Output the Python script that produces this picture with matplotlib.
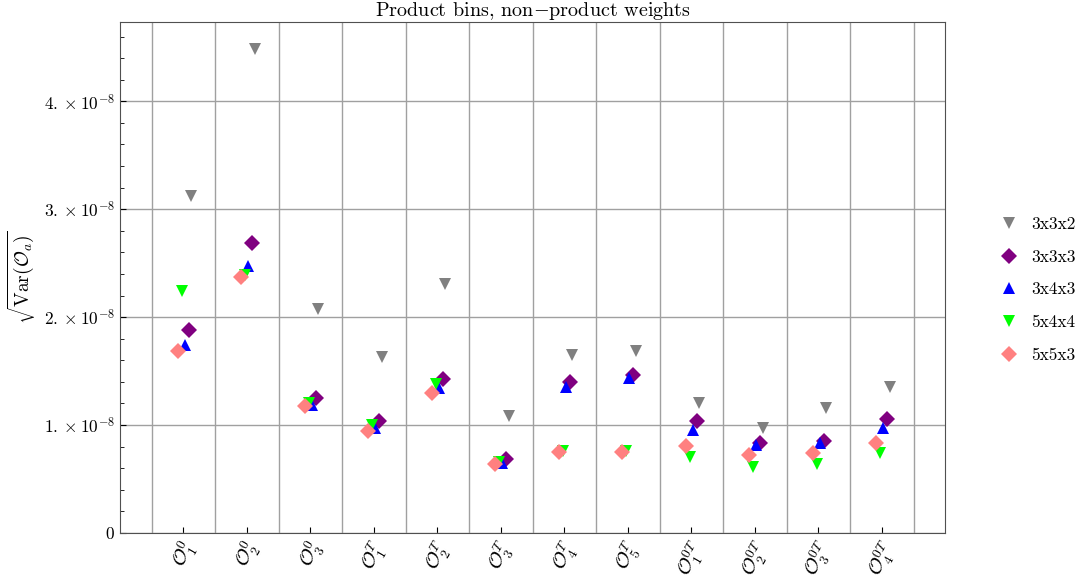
import numpy as np
import matplotlib
matplotlib.use("Agg")
import matplotlib.pyplot as plt
from matplotlib.ticker import FixedLocator, MultipleLocator, FuncFormatter

plt.rcParams["font.family"] = "serif"
plt.rcParams["font.serif"] = ["cmr10"]
plt.rcParams["mathtext.fontset"] = "cm"
plt.rcParams["axes.unicode_minus"] = False
plt.rcParams["font.size"] = 12.5

# observables on the x axis
operators = [r"$\mathcal{O}_1^0$", r"$\mathcal{O}_2^0$", r"$\mathcal{O}_3^0$",
             r"$\mathcal{O}_1^T$", r"$\mathcal{O}_2^T$", r"$\mathcal{O}_3^T$",
             r"$\mathcal{O}_4^T$", r"$\mathcal{O}_5^T$",
             r"$\mathcal{O}_1^{0T}$", r"$\mathcal{O}_2^{0T}$",
             r"$\mathcal{O}_3^{0T}$", r"$\mathcal{O}_4^{0T}$"]

# sqrt(Var) in units of 1e-8, one list per binning
bins = ["3x3x2", "3x3x3", "3x4x3", "5x4x4", "5x5x3"]
std_332 = [3.12, 4.48, 2.08, 1.63, 2.31, 1.08, 1.645, 1.686, 1.206, 0.974, 1.157, 1.357]
std_333 = [1.88, 2.687, 1.249, 1.033, 1.426, 0.684, 1.398, 1.466, 1.042, 0.838, 0.856, 1.055]
std_343 = [1.745, 2.477, 1.187, 0.971, 1.342, 0.647, 1.357, 1.435, 0.953, 0.819, 0.835, 0.971]
std_544 = [2.242, 2.389, 1.203, 1.002, 1.379, 0.662, 0.763, 0.763, 0.708, 0.609, 0.643, 0.742]
std_553 = [1.685, 2.372, 1.178, 0.949, 1.296, 0.640, 0.754, 0.754, 0.810, 0.724, 0.745, 0.838]

series = [std_332, std_333, std_343, std_544, std_553]
markers = ["v", "D", "^", "v", "D"]
colors = ["gray", "purple", "blue", "lime", "#ff8080"]
shifts = [0.12, 0.08, 0.02, -0.03, -0.09]

fig = plt.figure(figsize=(10.84, 5.83), dpi=100)
ax = fig.add_axes([0.1107, 0.0858, 0.7615, 0.8765])

x = np.arange(len(operators))
for vals, lab, m, c, dx in zip(series, bins, markers, colors, shifts):
    ms = 7.8 if m == "D" else 9
    ax.plot(x + dx, np.array(vals) * 1e-8, ls="none", marker=m, color=c,
            ms=ms, mew=0, label=lab)

ax.set_xlim(-1, len(operators))
ax.set_ylim(0, 4.735e-8)

ax.set_xticks(x)
ax.set_xticklabels(operators, rotation=60, ha="center", fontsize=14)
# cell boundaries between operators carry the vertical grid
ax.xaxis.set_minor_locator(FixedLocator(np.arange(-0.5, len(operators), 1.0)))
ax.yaxis.set_major_locator(MultipleLocator(1e-8))
ax.yaxis.set_minor_locator(MultipleLocator(2e-9))


def sci_label(v, pos):
    n = int(round(v / 1e-8))
    if n == 0:
        return r"$0$"
    return r"$%d.\times10^{-8}$" % n


ax.yaxis.set_major_formatter(FuncFormatter(sci_label))

ax.tick_params(axis="both", which="both", direction="in")
ax.tick_params(axis="y", which="major", length=4, labelsize=12.5)
ax.tick_params(axis="y", which="minor", length=3)
ax.tick_params(axis="x", which="major", length=4)
ax.tick_params(axis="x", which="minor", length=0)

ax.grid(True, axis="y", which="major", color="#a0a0a0", lw=1)
ax.grid(True, axis="x", which="minor", color="#a0a0a0", lw=1)
ax.set_axisbelow(True)
for s in ax.spines.values():
    s.set_color("#505050")

ax.set_title(r"Product bins, non$-$product weights", fontsize=14.5, pad=3)
ax.set_ylabel(r"$\sqrt{\mathrm{Var}(\mathcal{O}_a)}$", fontsize=14)

ax.legend(loc="center left", bbox_to_anchor=(1.037, 0.476), frameon=False,
          numpoints=1, labelspacing=1.0, handletextpad=0.3)

fig.savefig("out.png", dpi=100)
